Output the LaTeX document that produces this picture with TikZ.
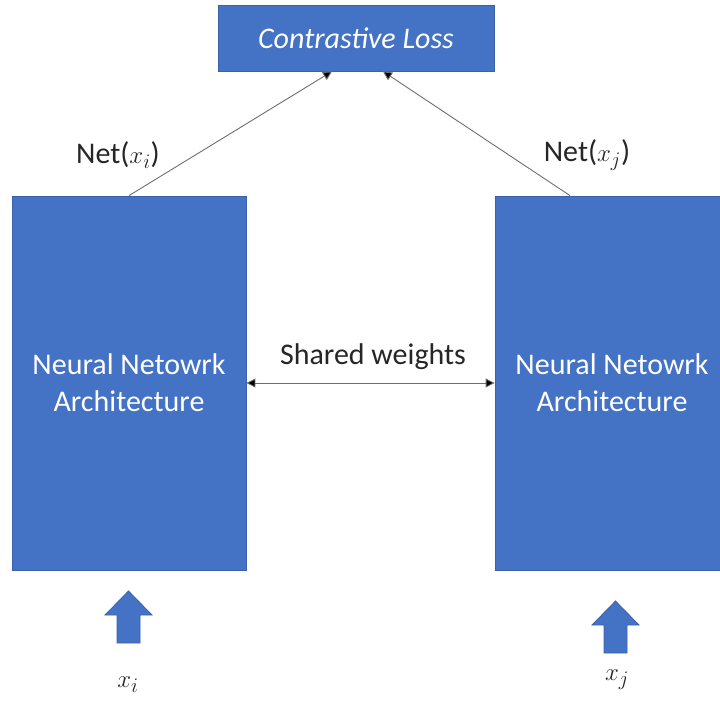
\documentclass[tikz,border=0pt]{standalone}
\usepackage{fontspec}
\setmainfont{Carlito}
\usetikzlibrary{calc,arrows.meta}
\definecolor{officeblue}{HTML}{4472C4}
\definecolor{blueedge}{HTML}{3A62AB}
\definecolor{linegray}{HTML}{6E6E6E}
\tikzset{
  bluebox/.style={draw=blueedge, line width=0.8pt, fill=officeblue, text=white,
    font=\fontsize{30}{37}\selectfont, align=center, inner sep=0pt},
  connector/.style={draw=linegray, line width=0.9pt, -{Triangle[length=9pt,width=9pt,fill=black]}},
  twoway/.style={draw=linegray, line width=0.9pt,
    {Triangle[length=9pt,width=9pt,fill=black]}-{Triangle[length=9pt,width=9pt,fill=black]}},
  caption/.style={text=black!85, font=\fontsize{30}{34}\selectfont, inner sep=0pt},
  inputlabel/.style={text=black!85, font=\fontsize{31}{34}\selectfont, inner sep=0pt},
  blockarrow/.style={draw=blueedge, line width=0.8pt, fill=officeblue}
}
\begin{document}
\begin{tikzpicture}[x=1pt,y=-1pt]
  \useasboundingbox (0,0) rectangle (720,702);
  \begin{scope}
    \clip (0,0) rectangle (720,702);

    % loss and the two twin networks
    \node[bluebox, minimum width=276pt, minimum height=66pt] (loss) at (356,38)
      {\itshape Contrastive Loss};
    \node[bluebox, minimum width=234pt, minimum height=374pt] (netL) at (129,383)
      {Neural Netowrk\\Architecture};
    \node[bluebox, minimum width=234pt, minimum height=374pt] (netR) at (612,383)
      {Neural Netowrk\\Architecture};

    % outputs feeding the loss
    \coordinate (outR) at ($(netR.north)+(-42,0)$);
    \coordinate (inL) at ($(loss.south)+(-24,0)$);
    \coordinate (inR) at ($(loss.south)+(27,0)$);
    \draw[connector] (netL.north) -- (inL);
    \draw[connector] (outR) -- (inR);

    \node[caption] (netxi) at (118,155) {Net($x_i$)};
    \node[caption] (netxj) at (587,155) {Net($x_j$)};

    % weight sharing between the twins
    \draw[twoway] (netL.east) -- (netR.west);
    \node[caption] (shared) at (373,357) {Shared weights};

    % inputs
    \draw[blockarrow] (128.5,591) -- (152,615) -- (140,615) -- (140,643)
      -- (117,643) -- (117,615) -- (105,615) -- cycle;
    \draw[blockarrow] (615.5,601) -- (639,625) -- (627,625) -- (627,653)
      -- (604,653) -- (604,625) -- (592,625) -- cycle;
    \node[inputlabel] (xi) at (128,685) {$x_i$};
    \node[inputlabel] (xj) at (617,680) {$x_j$};
  \end{scope}
\end{tikzpicture}
\end{document}
